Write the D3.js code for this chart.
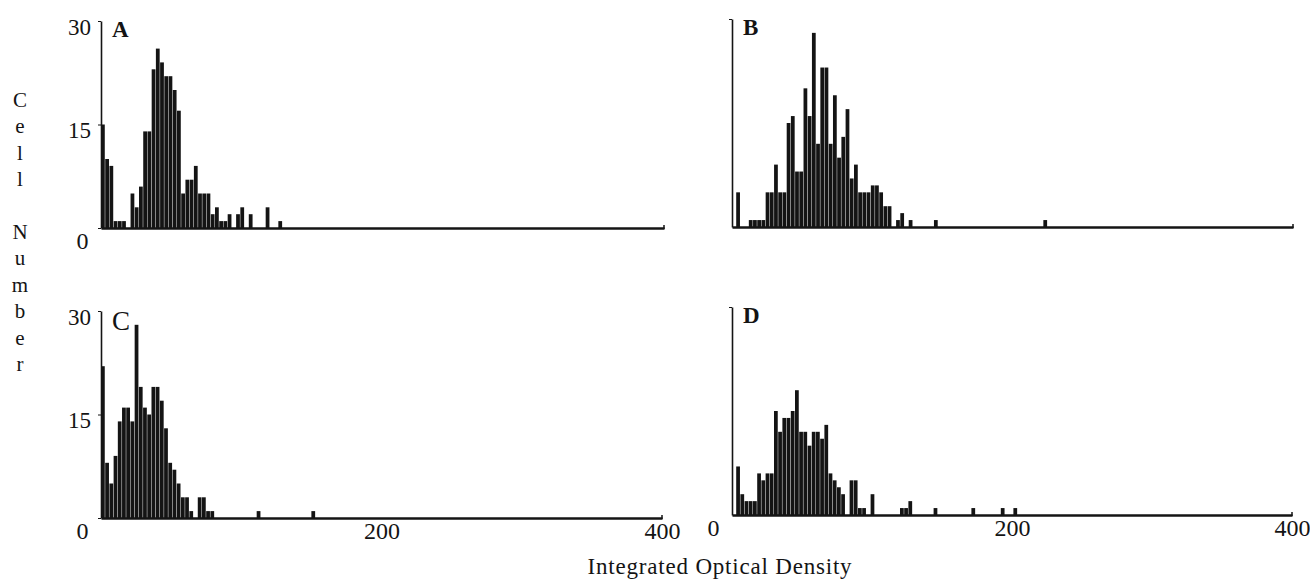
<!DOCTYPE html>
<html>
<head>
<meta charset="utf-8">
<script src="https://cdn.jsdelivr.net/npm/d3@7"></script>
<style>
  body { margin: 0; background: #fff; }
  svg { display: block; font-family: "Liberation Serif", "Times New Roman", serif; }
</style>
</head>
<body>
<svg id="chart" width="1310" height="582"></svg>
<script>
// histogram bins are BIN_SIZE units wide, starting at 0
const BIN_SIZE = 3;
const X_TICKS = [0, 200, 400];
const Y_TICKS = [0, 15, 30];
const Y_LABELS = [15, 30];
const Y_TITLE = "Cell Number";
const X_TITLE = "Integrated Optical Density";

const countsA = [15, 10, 9, 1, 1, 1, 0, 5, 3, 6, 14, 14, 23, 26, 24, 22, 22, 20, 17, 5,
  7, 7, 9, 5, 5, 5, 2, 3, 1, 1, 2, 0, 2, 3, 0, 2, 0, 0, 0, 3, 0, 0, 1];

const countsB = [0, 5, 0, 0, 1, 1, 1, 1, 5, 5, 9, 5, 5, 15, 16, 8, 8, 20, 16, 28,
  12, 23, 23, 12, 19, 10, 13, 17, 7, 9, 5, 5, 5, 6, 6, 5, 3, 3, 0, 1,
  2, 0, 1, 0, 0, 0, 0, 0, 1, 0, 0, 0, 0, 0, 0, 0, 0, 0, 0, 0,
  0, 0, 0, 0, 0, 0, 0, 0, 0, 0, 0, 0, 0, 0, 1];

const countsC = [22, 8, 5, 9, 14, 16, 16, 14, 28, 19, 16, 15, 19, 19, 17, 13, 8, 7, 5, 3,
  3, 1, 0, 3, 3, 1, 1, 0, 0, 0, 0, 0, 0, 0, 0, 0, 0, 1, 0, 0,
  0, 0, 0, 0, 0, 0, 0, 0, 0, 0, 1];

const countsD = [0, 7, 3, 2, 2, 2, 6, 5, 6, 6, 15, 12, 14, 14, 15, 18, 12, 12, 10, 12,
  12, 11, 13, 6, 5, 4, 3, 0, 5, 5, 1, 1, 0, 3, 0, 0, 0, 0, 0, 0,
  1, 1, 2, 0, 0, 0, 0, 0, 1, 0, 0, 0, 0, 0, 0, 0, 0, 1, 0, 0,
  0, 0, 0, 0, 1, 0, 0, 1];

const panels = [
  { name: "A", counts: countsA, left: 101, right: 664, top: 21, base: 228, yLabels: true, xLabels: [0], bold: true },
  { name: "B", counts: countsB, left: 732, right: 1293, top: 19, base: 227, yLabels: false, xLabels: [], bold: true },
  { name: "C", counts: countsC, left: 101, right: 662, top: 311, base: 518, yLabels: true, xLabels: X_TICKS, bold: false },
  { name: "D", counts: countsD, left: 732, right: 1292, top: 307, base: 515, yLabels: false, xLabels: X_TICKS, bold: true },
];

const INK = "#141414";
const svg = d3.select("#chart");

panels.forEach((p) => drawPanel(svg.append("g").attr("class", "panel-" + p.name), p));

function drawPanel(g, p) {
  const x = d3.scaleLinear().domain([0, 400]).range([p.left, p.right]);
  const y = d3.scaleLinear().domain([0, 30]).range([p.base, p.top]);

  const bins = p.counts
    .map((c, i) => ({ x0: i * BIN_SIZE, x1: (i + 1) * BIN_SIZE, c }))
    .filter((d) => d.c > 0);

  g.selectAll(".bar")
    .data(bins)
    .join("rect")
    .attr("class", "bar")
    .attr("x", (d) => x(d.x0))
    .attr("width", (d) => x(d.x1) - x(d.x0) - 0.45)
    .attr("y", (d) => y(d.c))
    .attr("height", (d) => y(0) - y(d.c))
    .attr("fill", INK);

  // y axis: thin line, small ticks, labels only on the left panels
  const yAxis = g
    .append("g")
    .attr("transform", `translate(${p.left},0)`)
    .call(
      d3.axisLeft(y)
        .tickValues(p.yLabels ? Y_TICKS : [30])
        .tickSize(3)
        .tickSizeOuter(0)
        .tickFormat((d) => (p.yLabels && Y_LABELS.includes(d) ? d : ""))
    );
  yAxis.select(".domain").attr("stroke", INK).attr("stroke-width", 1.6);
  yAxis.selectAll(".tick line").attr("stroke", INK);
  yAxis
    .selectAll(".tick text")
    .attr("font-family", "Liberation Serif")
    .attr("font-size", 23)
    .attr("fill", INK)
    .attr("x", -10)
    .attr("dy", "0.32em")
    .attr("transform", "translate(0,6)");

  // x axis: heavy baseline
  const xAxis = g
    .append("g")
    .attr("transform", `translate(0,${p.base})`)
    .call(
      d3.axisBottom(x)
        .tickValues(X_TICKS)
        .tickSize(0)
        .tickSizeOuter(0)
        .tickFormat((d) => (p.xLabels.includes(d) ? d : ""))
    );
  xAxis.select(".domain").attr("stroke", INK).attr("stroke-width", 2.6);
  xAxis
    .selectAll(".tick text")
    .attr("font-family", "Liberation Serif")
    .attr("font-size", 24)
    .attr("fill", INK)
    .attr("y", 4)
    .attr("dy", "0.71em")
    .attr("dx", (d) => (d === 0 ? -19 : 0));

  // little end tick at 400
  g.append("line")
    .attr("x1", x(400))
    .attr("x2", x(400))
    .attr("y1", p.base - 3)
    .attr("y2", p.base + 1)
    .attr("stroke", INK)
    .attr("stroke-width", 1.5);

  g.append("text")
    .attr("x", p.left + 11)
    .attr("y", p.top + (p.bold ? 16 : 19))
    .attr("font-size", p.bold ? 23 : 27)
    .attr("font-weight", p.bold ? "bold" : "normal")
    .attr("fill", INK)
    .text(p.name);
}

// vertical stacked y title
const yTitle = svg.append("g").attr("class", "y-title");
yTitle
  .selectAll("text")
  .data(Y_TITLE.split(""))
  .join("text")
  .attr("x", 20)
  .attr("y", (d, i) => 107 + i * 26.4)
  .attr("text-anchor", "middle")
  .attr("font-size", 21)
  .attr("fill", INK)
  .text((d) => d);

svg
  .append("text")
  .attr("x", 720)
  .attr("y", 574)
  .attr("text-anchor", "middle")
  .attr("font-size", 23)
  .attr("letter-spacing", 0.8)
  .attr("fill", INK)
  .text(X_TITLE);
</script>
</body>
</html>
